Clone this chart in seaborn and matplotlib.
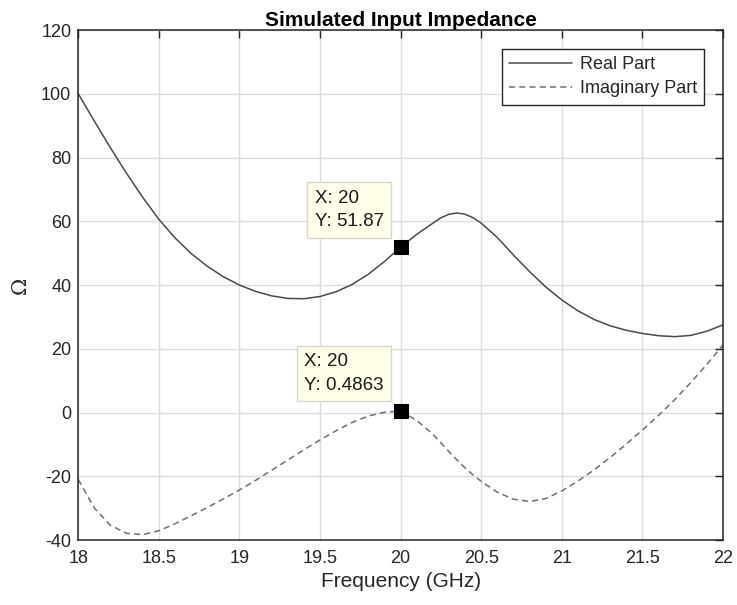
import matplotlib
matplotlib.use("Agg")
import matplotlib.pyplot as plt
import seaborn as sns
import pandas as pd

freq = [18.0, 18.1, 18.2, 18.3, 18.4, 18.5, 18.6, 18.7, 18.8, 18.9,
        19.0, 19.1, 19.2, 19.3, 19.4, 19.5, 19.6, 19.7, 19.8, 19.9,
        20.0, 20.1, 20.2, 20.25, 20.3, 20.35, 20.4, 20.45, 20.5, 20.6, 20.7, 20.8, 20.9,
        21.0, 21.1, 21.2, 21.3, 21.4, 21.5, 21.6, 21.7, 21.8, 21.9, 22.0]
real_part = [100.0, 91.4, 83.0, 75.0, 67.5, 60.6, 54.8, 49.9, 45.9, 42.6,
             40.0, 38.0, 36.6, 35.8, 35.7, 36.4, 37.9, 40.2, 43.4, 47.4,
             51.87, 55.9, 59.4, 61.1, 62.2, 62.6, 62.2, 61.1, 59.4, 54.9, 49.4, 44.2, 39.4,
             35.3, 31.9, 29.2, 27.2, 25.8, 24.8, 24.1, 23.8, 24.2, 25.5, 27.5]
imag_part = [-21.0, -30.0, -35.4, -37.9, -38.3, -37.1, -34.9, -32.4, -29.8, -27.1,
             -24.3, -21.3, -18.1, -14.9, -11.7, -8.6, -5.7, -3.1, -1.1, 0.1,
             0.4863, -2.5, -6.8, -9.5, -12.3, -14.9, -17.4, -19.6, -21.6, -25.0, -27.2, -27.9, -27.0,
             -24.6, -21.5, -18.0, -14.1, -9.9, -5.5, -0.9, 4.0, 9.4, 15.1, 21.2]
series_names = ["Real Part", "Imaginary Part"]
tip_x = [20, 20]
tip_y = [51.87, 0.4863]
tip_labels = ["X: 20\nY: 51.87", "X: 20\nY: 0.4863"]
x_ticks = [18, 18.5, 19, 19.5, 20, 20.5, 21, 21.5, 22]
x_tick_labels = ["18", "18.5", "19", "19.5", "20", "20.5", "21", "21.5", "22"]
y_ticks = [-40, -20, 0, 20, 40, 60, 80, 100, 120]

sns.set_style("white")
plt.rcParams['font.family'] = ['Liberation Sans', 'DejaVu Sans']
plt.rcParams['axes.unicode_minus'] = False

df_real = pd.DataFrame({"f": freq, "v": real_part})
df_imag = pd.DataFrame({"f": freq, "v": imag_part})

fig = plt.figure(figsize=(7.37, 6.05), dpi=100)
ax = fig.add_axes([0.1062, 0.1074, 0.8748, 0.843])

sns.lineplot(data=df_real, x="f", y="v", ax=ax, color="#4a4a4a", lw=1.1,
             label=series_names[0])
sns.lineplot(data=df_imag, x="f", y="v", ax=ax, color="#707070", lw=1.1,
             linestyle=(0, (4, 2.7)), label=series_names[1])

sns.scatterplot(x=tip_x, y=tip_y, ax=ax, marker="s", s=95, color="black",
                edgecolor="black", zorder=5, legend=False)

for tx, ty, lab in zip(tip_x, tip_y, tip_labels):
    ax.annotate(lab, xy=(tx, ty), xytext=(-17, 17), textcoords="offset pixels",
                ha="right", va="bottom", multialignment="left",
                fontsize=13.5, linespacing=1.5, color="#1a1a1a",
                bbox=dict(boxstyle="square,pad=0.4", fc="#FFFFEA",
                          ec="#D8D8C8", lw=1), zorder=6)

ax.set_xlim(18, 22)
ax.set_ylim(-40, 120)
ax.set_xticks(x_ticks)
ax.set_xticklabels(x_tick_labels)
ax.set_yticks(y_ticks)
ax.grid(True, color="#DCDCDC", lw=1)
ax.set_axisbelow(True)
ax.tick_params(direction="in", length=6, width=1, top=True, right=True,
               labelsize=13, color="#262626", labelcolor="#262626")
ax.tick_params(axis="x", pad=7.5)
ax.tick_params(axis="y", pad=5)
for sp in ax.spines.values():
    sp.set_color("#262626")
    sp.set_linewidth(1.1)
    sp.set_visible(True)

ax.set_xlabel("Frequency (GHz)", fontsize=15, color="#262626", labelpad=3)
ax.set_ylabel("Ω", fontsize=15, color="#262626", family="DejaVu Serif", labelpad=8)
ax.set_title("Simulated Input Impedance", fontsize=15, fontweight="bold",
             color="black", pad=3)

leg = ax.legend(loc="upper right", fontsize=13, frameon=True, fancybox=False,
                edgecolor="#262626", framealpha=1, handlelength=3.5,
                borderaxespad=1.05, borderpad=0.4, labelspacing=0.4,
                handletextpad=0.4)
leg.get_frame().set_linewidth(1)

fig.savefig("out.png", dpi=100)
